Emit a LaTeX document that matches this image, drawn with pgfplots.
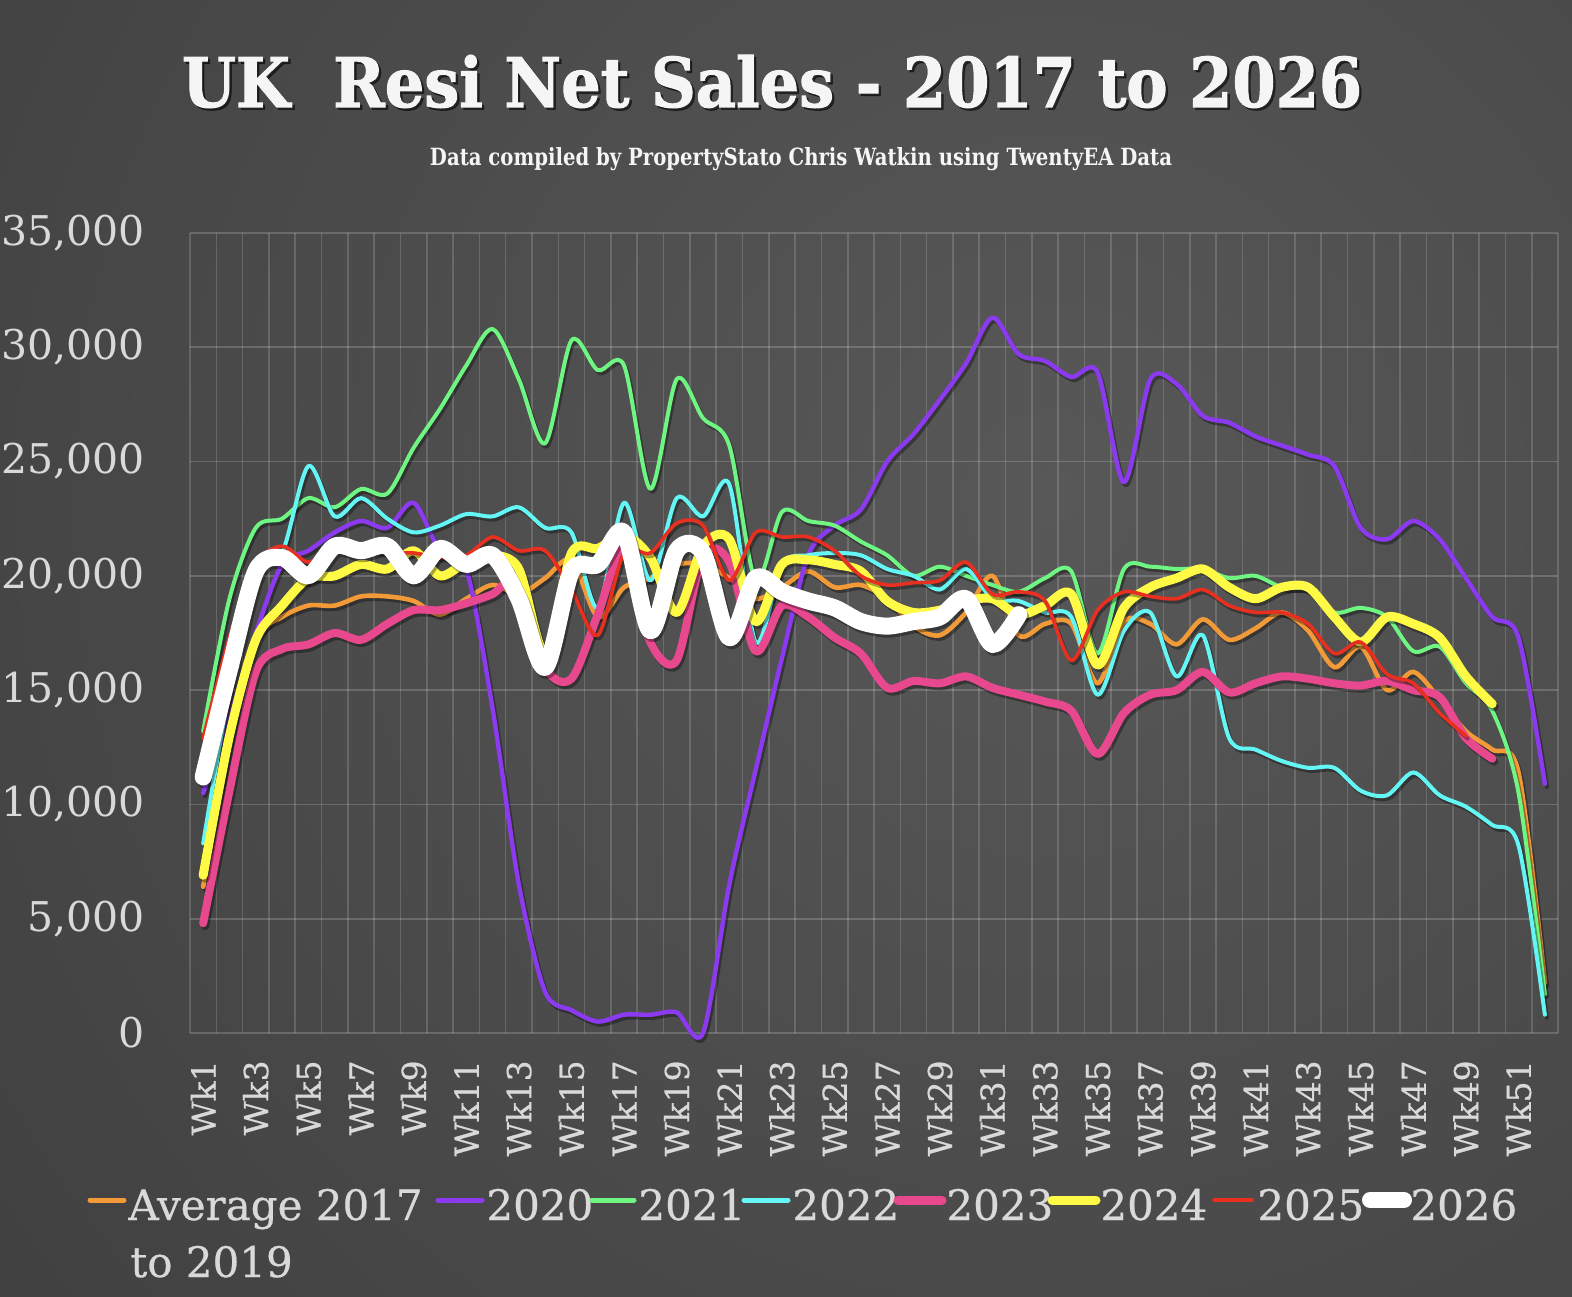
\documentclass[border=0pt]{standalone}
\usepackage{fontspec}
\setmainfont{DejaVu Serif}
\newfontface\heavyfont{DejaVu Serif Bold}[FakeBold=1.6]
\newfontface\medfont{DejaVu Serif}[FakeBold=0.6]
\usepackage{graphicx}
\usepackage{pgfplots}
\usepackage{pgfplotstable}
\pgfplotsset{compat=1.18}

\definecolor{cavg}{RGB}{242,154,56}
\definecolor{c20}{RGB}{140,58,240}
\definecolor{c21}{RGB}{110,245,130}
\definecolor{c22}{RGB}{100,245,245}
\definecolor{c23}{RGB}{232,72,142}
\definecolor{c24}{RGB}{255,250,70}
\definecolor{c25}{RGB}{232,48,32}
\definecolor{c26}{RGB}{255,255,255}
\definecolor{tickgray}{RGB}{217,217,217}
\definecolor{titlewhite}{RGB}{245,245,245}
\definecolor{bginner}{RGB}{88,88,88}
\definecolor{bgouter}{RGB}{38,38,38}

\pgfplotstableread{
w avg y20 y21 y22 y23 y24 y25 y26
1 6400 10500 13200 8300 4800 6900 12900 11200
2 12800 13800 19000 15000 10600 13000 17300 15900
3 17200 17500 22100 20300 15800 17200 20500 20200
4 18200 20500 22500 21000 16800 18700 21300 20800
5 18700 21100 23400 24800 17000 19900 20600 20000
6 18700 21900 23000 22600 17500 20000 21300 21300
7 19100 22400 23800 23400 17200 20500 21200 21100
8 19100 22100 23600 22500 17900 20300 21000 21300
9 18900 23200 25600 21900 18500 21100 21000 20000
10 18300 21100 27300 22200 18500 20000 20800 21200
11 19000 20300 29200 22700 18800 20600 20900 20500
12 19600 14200 30800 22600 19200 20900 21700 20900
13 19200 6500 28600 23000 19800 20300 21100 19000
14 19900 1800 25800 22100 16000 16600 21100 16000
15 20700 1000 30300 21900 15500 21000 19400 20200
16 18200 500 29000 18600 18300 21200 17400 20500
17 19500 800 29200 23200 21200 21800 21000 21900
18 19900 800 23800 19800 17100 20800 21000 17600
19 20500 900 28600 23400 16300 18400 22300 21100
20 20500 0 26900 22600 20900 21300 22200 21000
21 19900 6500 25700 24000 20600 21600 19800 17300
22 19000 11500 19800 17100 16700 18000 21900 19900
23 19500 16400 22800 20500 18700 20500 21700 19300
24 20200 20900 22400 20900 18200 20700 21700 18900
25 19500 22200 22200 21000 17300 20500 21100 18600
26 19600 22900 21500 20900 16600 20200 20000 18000
27 19000 25000 20900 20300 15100 18900 19600 17800
28 17800 26200 20000 20000 15400 18400 19700 18000
29 17400 27700 20400 19400 15300 18500 19800 18200
30 18400 29300 20000 20300 15600 18900 20600 19000
31 20000 31300 19600 19000 15100 19000 19200 17000
32 17400 29700 19300 18900 14800 18300 19300 18300
33 17900 29400 19900 18400 14500 18700 18900 nan
34 17900 28700 20200 18200 14100 19200 16300 nan
35 15300 28900 16600 14800 12200 16100 18500 nan
36 18000 24100 20300 17600 14000 18600 19300 nan
37 17900 28600 20400 18400 14800 19500 19100 nan
38 17000 28400 20300 15600 15000 19900 19000 nan
39 18100 27000 20300 17400 15800 20300 19400 nan
40 17200 26700 19900 12900 14900 19500 18700 nan
41 17700 26100 20000 12400 15300 19000 18400 nan
42 18400 25700 19500 11900 15600 19500 18400 nan
43 17600 25300 19400 11600 15500 19500 17900 nan
44 16000 24800 18400 11600 15300 18200 16600 nan
45 16900 22100 18600 10600 15200 17100 17100 nan
46 15000 21600 18200 10400 15400 18200 15700 nan
47 15800 22400 16700 11400 15000 17900 15300 nan
48 14600 21600 16900 10400 14700 17300 14000 nan
49 13200 19900 15300 9900 12900 15600 13000 nan
50 12400 18200 14100 9100 12000 14400 nan nan
51 11400 17300 10500 8200 nan nan nan nan
52 2200 10900 1700 800 nan nan nan nan
}\datatable

\newcommand{\drawseries}[3]{%
  \addplot[black, opacity=0.35, line width=#3, line cap=round, line join=round, smooth, tension=0.5, xshift=1pt, yshift=-1.5pt, forget plot] table[x=w,y=#1]{\datatable};
  \addplot[#2, line width=#3, line cap=round, line join=round, smooth, tension=0.5] table[x=w,y=#1]{\datatable};
}

\begin{document}
\begin{tikzpicture}[x=1pt,y=1pt]
\useasboundingbox (0,0) rectangle (786,648);
\begin{scope}
\clip (0,0) rectangle (786,648);
\fill[bgouter] (0,0) rectangle (786,648);
\shade[inner color=bginner, outer color=bgouter] (525,400) circle (1400);
\end{scope}

% title
\node[anchor=base, inner sep=0, text=black, opacity=0.5] at (387.2,593.3) {\resizebox{590pt}{26pt}{\heavyfont UK\ \ Resi Net Sales - 2017 to 2026}};
\node[anchor=base, inner sep=0, text=titlewhite] at (386,594.5) {\resizebox{590pt}{26pt}{\heavyfont UK\ \ Resi Net Sales - 2017 to 2026}};
\node[anchor=base, inner sep=0, text=titlewhite] at (400.5,565) {\resizebox{371pt}{9pt}{\bfseries Data compiled by PropertyStato Chris Watkin using TwentyEA Data}};

\begin{axis}[
  at={(95pt,131.5pt)}, anchor=south west,
  scale only axis, width=684pt, height=400pt,
  xmin=0.5, xmax=52.5, ymin=0, ymax=35000,
  clip=false,
  axis line style={draw=none},
  major tick length=0pt, minor tick length=0pt,
  xtick={1,3,5,7,9,11,13,15,17,19,21,23,25,27,29,31,33,35,37,39,41,43,45,47,49,51},
  xticklabels={Wk1,Wk3,Wk5,Wk7,Wk9,Wk11,Wk13,Wk15,Wk17,Wk19,Wk21,Wk23,Wk25,Wk27,Wk29,Wk31,Wk33,Wk35,Wk37,Wk39,Wk41,Wk43,Wk45,Wk47,Wk49,Wk51},
  minor xtick={0.5,1.5,...,52.5},
  xmajorgrids=false, xminorgrids=true, ymajorgrids=true,
  major grid style={white, opacity=0.18, line width=0.8pt},
  minor grid style={white, opacity=0.16, line width=0.8pt},
  ytick={0,5000,10000,15000,20000,25000,30000,35000},
  scaled y ticks=false,
  /pgf/number format/assume math mode=true,
  /pgf/number format/1000 sep={,},
  yticklabel style={font=\fontsize{20.5}{20.5}\selectfont, text=tickgray, inner sep=0pt},
  yticklabel shift=22.5pt,
  xticklabel style={rotate=90, anchor=east, font=\medfont\fontsize{16.5}{16.5}\selectfont, text=tickgray, inner sep=0pt},
  xticklabel shift=13.5pt,
]
\drawseries{avg}{cavg}{2.3pt}
\drawseries{y20}{c20}{2.2pt}
\drawseries{y21}{c21}{2pt}
\drawseries{y22}{c22}{2pt}
\drawseries{y23}{c23}{4pt}
\drawseries{y24}{c24}{4.5pt}
\drawseries{y25}{c25}{1.8pt}
\drawseries{y26}{c26}{8.5pt}
\end{axis}

% legend
\begin{scope}[every node/.style={anchor=base west, inner sep=0pt, text=tickgray, font=\medfont\fontsize{21}{21}\selectfont}]
\draw[cavg, line width=2.5pt, line cap=round] (45,48) -- (62,48);
\node at (64,38) {Average 2017};
\node at (65,9.5) {to 2019};
\draw[c20, line width=2.5pt, line cap=round] (219,48) -- (241,48);
\node at (243,38) {2020};
\draw[c21, line width=2.5pt, line cap=round] (296,48) -- (317,48);
\node at (319,38) {2021};
\draw[c22, line width=2.5pt, line cap=round] (372,48) -- (394,48);
\node at (396,38) {2022};
\draw[c23, line width=4.5pt, line cap=round] (449,48) -- (471,48);
\node at (473,38) {2023};
\draw[c24, line width=4.5pt, line cap=round] (526,48) -- (548,48);
\node at (550,38) {2024};
\draw[c25, line width=1.8pt, line cap=round] (607,48) -- (626,48);
\node at (628.5,38) {2025};
\draw[c26, line width=8pt, line cap=round] (685,48) -- (702,48);
\node at (705,38) {2026};
\end{scope}
\end{tikzpicture}
\end{document}
